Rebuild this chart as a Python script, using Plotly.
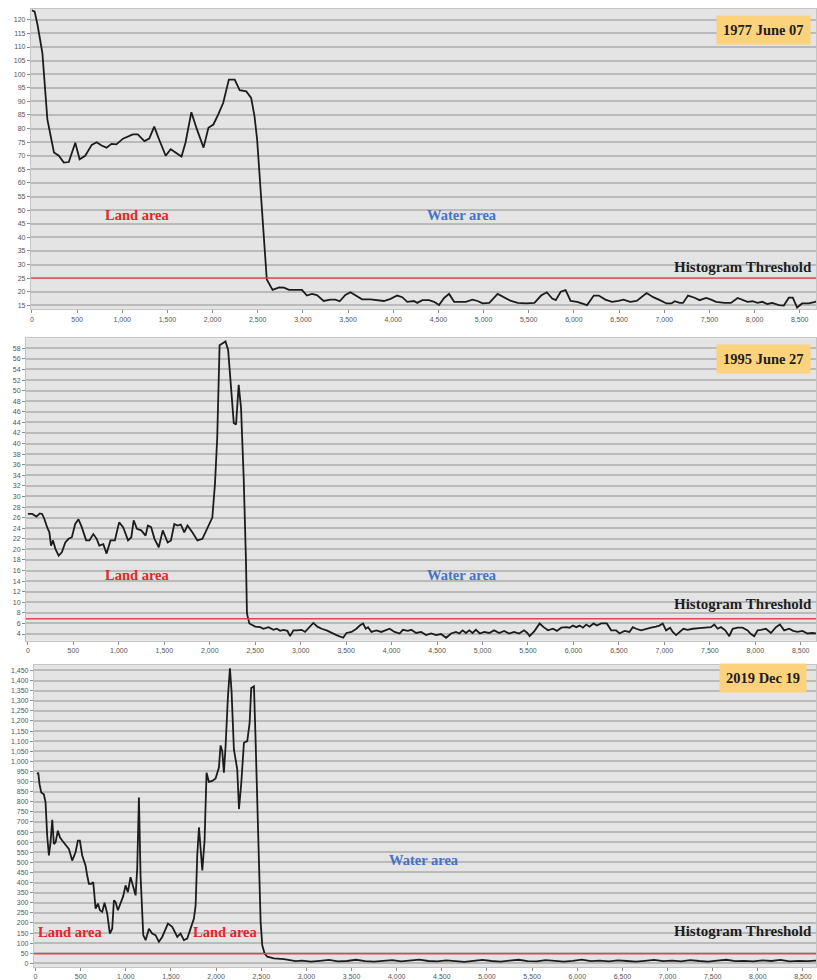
import plotly.graph_objects as go

W, H = 817, 980

# ---------------- data ----------------
# Panel 1: 1977 June 07
x1 = [0, 30, 62, 116, 171, 244, 298, 353, 408, 480, 528, 590, 662, 717, 771, 826, 881, 935,
      1008, 1063, 1117, 1172, 1245, 1299, 1354, 1408, 1481, 1536, 1590, 1656, 1700, 1765, 1827,
      1900, 1954, 2009, 2063, 2118, 2180, 2245, 2300, 2373, 2427, 2464, 2493, 2536, 2573, 2600,
      2664, 2737, 2791, 2846, 2933, 2989, 3044, 3100, 3155, 3230, 3304, 3359, 3407, 3470, 3526,
      3581, 3655, 3748, 3822, 3896, 3970, 4044, 4100, 4155, 4229, 4266, 4322, 4396, 4452, 4507,
      4563, 4618, 4674, 4748, 4803, 4877, 4933, 4989, 5063, 5156, 5230, 5304, 5378, 5470, 5563,
      5637, 5700, 5760, 5799, 5854, 5908, 5963, 6037, 6092, 6146, 6220, 6275, 6348, 6421, 6494,
      6549, 6622, 6695, 6805, 6878, 6952, 7025, 7080, 7116, 7171, 7208, 7263, 7336, 7391, 7464,
      7519, 7574, 7665, 7739, 7812, 7867, 7922, 7977, 8031, 8086, 8141, 8196, 8269, 8324, 8379,
      8423, 8471, 8526, 8599, 8672, 8708]
y1 = [123.5, 123, 118.2, 107.8, 83.4, 71.2, 70, 67.5, 67.7, 74.8, 68.7, 70, 74, 75, 73.8, 73, 74.4, 74.2,
      76.3, 77, 77.9, 77.9, 75.4, 76.3, 80.7, 76, 70, 72.4, 71.2, 69.7, 74.8, 86, 79.7,
      73, 80.3, 81.5, 85.2, 89.5, 98, 98, 94.1, 93.7, 91.3, 84.6, 76, 54, 34.5, 24.5,
      20.7, 21.6, 21.5, 20.7, 20.7, 20.7, 18.6, 19.2, 18.8, 16.6, 17.1, 17.1, 16.5, 18.8, 19.8,
      18.8, 17.2, 17.2, 16.9, 16.6, 17.4, 18.6, 18.0, 16.3, 16.6, 15.9, 16.9, 16.9, 16.3, 15.1,
      17.7, 19.2, 16.3, 16.3, 16.3, 17.1, 16.6, 15.7, 15.9, 19.2, 18.0, 16.6, 15.9, 15.7, 15.9,
      18.6, 19.8, 17.5, 16.9, 20.0, 20.6, 16.6, 16.3, 15.7, 15.1, 18.6, 18.6, 17.1, 16.3, 16.6,
      17.1, 16.3, 16.6, 19.5, 18.0, 16.9, 15.7, 15.7, 16.5, 15.9, 15.9, 18.6, 17.8, 16.9, 17.7,
      17.1, 16.3, 15.9, 15.9, 17.7, 17.1, 16.3, 16.5, 15.9, 16.3, 15.5, 15.9, 15.1, 14.9, 17.8,
      17.8, 14.2, 15.7, 15.7, 16.3, 16.9]
threshold1 = 25

# Panel 2: 1995 June 27
x2 = [0, 47, 94, 131, 156, 182, 211, 236, 254, 276, 302, 338, 374, 411, 447, 483, 520, 556, 592,
      640, 676, 719, 756, 785, 829, 865, 908, 956, 1003, 1047, 1101, 1137, 1163, 1199, 1246, 1294,
      1319, 1355, 1392, 1439, 1483, 1537, 1573, 1610, 1646, 1682, 1719, 1755, 1810, 1864, 1919,
      1973, 2028, 2057, 2082, 2108, 2173, 2202, 2238, 2264, 2289, 2318, 2344, 2373, 2398, 2409,
      2435, 2500, 2555, 2591, 2646, 2701, 2737, 2774, 2810, 2854, 2883, 2920, 2956, 3011, 3048,
      3084, 3139, 3183, 3230, 3285, 3340, 3394, 3467, 3504, 3559, 3613, 3650, 3686, 3715, 3741,
      3778, 3832, 3887, 3942, 3978, 4033, 4088, 4124, 4179, 4216, 4270, 4325, 4380, 4435, 4489,
      4544, 4599, 4654, 4708, 4745, 4781, 4818, 4854, 4891, 4927, 4971, 5019, 5073, 5128, 5183,
      5238, 5292, 5347, 5402, 5457, 5493, 5518, 5573, 5628, 5672, 5720, 5775, 5818, 5866, 5921,
      5958, 5994, 6031, 6067, 6104, 6141, 6177, 6221, 6258, 6305, 6367, 6415, 6470, 6506, 6561,
      6616, 6653, 6689, 6744, 6799, 6854, 6909, 6946, 6982, 7019, 7063, 7092, 7129, 7165, 7209,
      7257, 7312, 7385, 7458, 7513, 7549, 7586, 7623, 7670, 7714, 7751, 7806, 7861, 7916, 7952,
      7989, 8026, 8062, 8117, 8172, 8227, 8271, 8318, 8373, 8417, 8465, 8520, 8574, 8629, 8691]
y2 = [26.7, 26.7, 26.2, 26.8, 26.7, 25.7, 24.2, 23.2, 20.7, 21.7, 20.1, 18.8, 19.5, 21.3, 22.0, 22.3, 24.8, 25.7, 24.2,
      21.7, 21.7, 22.9, 22.0, 20.7, 21.0, 19.2, 21.7, 21.7, 25.1, 24.2, 21.7, 22.3, 25.5, 23.9, 23.6, 22.6,
      24.5, 24.2, 22.0, 20.4, 23.6, 21.3, 21.7, 24.8, 24.5, 24.7, 23.2, 24.5, 23.2, 21.7, 22.0,
      23.9, 26.0, 32.3, 41.1, 58.6, 59.3, 57.7, 49.2, 43.9, 43.6, 51.1, 46.7, 33.6, 17.9, 7.9,
      6.0, 5.4, 5.3, 5.0, 5.3, 4.8, 5.0, 4.6, 4.8, 4.6, 3.6, 4.7, 4.7, 4.8, 4.4,
      5.0, 6.1, 5.4, 5.0, 4.7, 4.2, 3.8, 3.3, 4.2, 4.4, 5.0, 5.6, 6.0, 5.0, 5.3,
      4.4, 4.7, 4.4, 4.7, 5.0, 4.4, 4.1, 4.8, 4.6, 4.8, 4.2, 4.4, 3.8, 4.1, 3.8,
      4.0, 3.3, 4.1, 4.4, 4.1, 4.7, 4.2, 4.7, 4.2, 4.8, 4.1, 4.4, 4.2, 4.7, 4.2,
      4.6, 4.1, 4.4, 4.1, 4.7, 4.2, 3.6, 4.6, 6.0, 5.3, 4.7, 5.0, 4.6, 5.2, 5.3,
      5.2, 5.6, 5.3, 5.6, 5.2, 5.8, 5.4, 6.0, 5.6, 6.0, 6.0, 4.7, 4.7, 4.1, 4.6,
      4.4, 5.3, 5.0, 4.7, 5.0, 5.2, 5.4, 5.6, 6.0, 4.7, 5.2, 4.4, 3.8, 4.4, 5.0,
      4.8, 5.0, 5.1, 5.2, 5.3, 5.8, 5.0, 5.3, 4.7, 3.6, 5.0, 5.2, 5.2, 4.7, 4.0,
      3.6, 4.7, 4.8, 5.0, 4.2, 5.3, 5.8, 4.7, 5.0, 4.6, 4.4, 4.6, 4.1, 4.2, 4.1]
threshold2 = 6.9

# Panel 3: 2019 Dec 19
x3 = [18, 30, 44, 63, 92, 111, 129, 148, 166, 185, 203, 222, 247, 270, 295, 332, 369, 406, 443,
      469, 491, 517, 554, 572, 591, 617, 639, 665, 691, 713, 739, 764, 794, 823, 849, 868, 886,
      912, 942, 971, 997, 1023, 1052, 1082, 1108, 1126, 1145, 1163, 1193, 1219, 1256, 1292, 1329,
      1366, 1403, 1466, 1514, 1570, 1606, 1643, 1680, 1717, 1754, 1773, 1791, 1810, 1828, 1847,
      1872, 1894, 1920, 1957, 1994, 2031, 2049, 2068, 2086, 2105, 2131, 2153, 2171, 2197, 2234,
      2253, 2279, 2308, 2345, 2371, 2389, 2419, 2437, 2456, 2474, 2493, 2511, 2537, 2567, 2640,
      2751, 2825, 2880, 2950, 3050, 3150, 3250, 3350, 3450, 3550, 3650, 3750, 3850, 3950, 4050,
      4150, 4250, 4350, 4450, 4550, 4650, 4750, 4850, 4950, 5050, 5150, 5250, 5350, 5450, 5550,
      5650, 5750, 5850, 5950, 6050, 6150, 6250, 6350, 6450, 6550, 6650, 6750, 6850, 6950, 7050,
      7150, 7250, 7350, 7450, 7550, 7650, 7750, 7850, 7950, 8050, 8150, 8250, 8350, 8450, 8550,
      8650]
y3 = [936, 944, 887, 846, 837, 796, 632, 534, 599, 711, 591, 599, 657, 624, 608, 586, 567, 509, 550,
      608, 608, 534, 484, 435, 394, 394, 402, 271, 296, 263, 255, 300, 246, 148, 172, 312, 304,
      263, 296, 333, 386, 353, 427, 378, 337, 468, 821, 435, 140, 115, 172, 148, 140,
      107, 131, 197, 181, 131, 148, 115, 123, 172, 222, 287, 534, 673, 567, 460,
      608, 944, 898, 903, 915, 969, 1079, 1051, 944, 1076, 1322, 1461, 1346, 1059, 961,
      764, 895, 1092, 1100, 1190, 1363, 1371, 1108, 780, 501, 205, 90, 49, 33, 25,
      21, 16, 11, 14, 9, 13, 17, 10, 12, 18, 11, 9, 14, 16, 10,
      13, 19, 12, 10, 15, 11, 8, 13, 17, 12, 9, 14, 18, 11, 10,
      16, 12, 9, 13, 19, 11, 14, 10, 15, 12, 9, 13, 17, 11, 14,
      10, 16, 12, 9, 14, 18, 11, 13, 10, 15, 12, 17, 10, 13, 11,
      14]
threshold3 = 48

x_ticks = [0, 500, 1000, 1500, 2000, 2500, 3000, 3500, 4000, 4500, 5000, 5500, 6000, 6500, 7000,
           7500, 8000, 8500]
x_tick_labels = ["0", "500", "1,000", "1,500", "2,000", "2,500", "3,000", "3,500", "4,000", "4,500",
                 "5,000", "5,500", "6,000", "6,500", "7,000", "7,500", "8,000", "8,500"]
y1_ticks = list(range(15, 121, 5))
y2_ticks = list(range(4, 59, 2))
y3_ticks = list(range(0, 1451, 50))
y3_tick_labels = [f"{v:,}" for v in y3_ticks]

dates = ["1977 June 07", "1995 June 27", "2019 Dec 19"]

# ---------------- figure ----------------
fig = go.Figure()
line_style = dict(color="#1c1c1c", width=1.8)
fig.add_trace(go.Scatter(x=x1, y=y1, mode="lines", line=line_style, xaxis="x", yaxis="y", showlegend=False))
fig.add_trace(go.Scatter(x=x2, y=y2, mode="lines", line=line_style, xaxis="x2", yaxis="y2", showlegend=False))
fig.add_trace(go.Scatter(x=x3, y=y3, mode="lines", line=line_style, xaxis="x3", yaxis="y3", showlegend=False))

def px_x(p):
    return p / W

def px_y(p):
    return 1 - p / H

tickfont = dict(family="Liberation Sans, Arial, sans-serif", size=7, color="#555555")
grid = dict(showgrid=True, gridcolor="#bababa", gridwidth=1.6)

def xaxis(domain_left, rng, anchor):
    return dict(domain=[px_x(domain_left), 1], range=rng, anchor=anchor, tickmode="array",
                tickvals=x_ticks, ticktext=x_tick_labels, tickfont=tickfont, ticks="outside",
                ticklen=3, tickcolor="#8a8a8a", showgrid=False, zeroline=False, showline=True,
                linecolor="#c4c4c4", linewidth=1, mirror=True)

def yaxis(top, bottom, rng, tickvals, ticktext, anchor):
    return dict(domain=[px_y(bottom), px_y(top)], range=rng, anchor=anchor, tickmode="array",
                tickvals=tickvals, ticktext=ticktext, tickfont=tickfont, ticks="outside",
                ticklen=3, tickcolor="#8a8a8a", zeroline=False, showline=True,
                linecolor="#c4c4c4", linewidth=1, mirror=True, **grid)

fig.update_layout(
    width=W, height=H,
    margin=dict(l=0, r=0, t=0, b=0),
    paper_bgcolor="white",
    plot_bgcolor="#e4e4e4",
    xaxis=xaxis(30, [-11, 8680], "y"),
    yaxis=yaxis(9, 311, [13.5, 124], y1_ticks, [str(v) for v in y1_ticks], "x"),
    xaxis2=xaxis(25, [-22, 8668], "y2"),
    yaxis2=yaxis(340, 644, [2.74, 59.9], y2_ticks, [str(v) for v in y2_ticks], "x2"),
    xaxis3=xaxis(33, [-18, 8644], "y3"),
    yaxis3=yaxis(668, 972, [-18, 1479], y3_ticks, y3_tick_labels, "x3"),
)

for i, thr in enumerate([threshold1, threshold2, threshold3]):
    suffix = "" if i == 0 else str(i + 1)
    fig.add_shape(type="line", xref=f"x{suffix} domain", yref=f"y{suffix}", x0=0, x1=1, y0=thr, y1=thr,
                  line=dict(color="#e0464b", width=1.4))

serif = "Liberation Serif, Times New Roman, serif"

def ann(text, cx, cy, color, xanchor="center", bg=None, size=14.5):
    d = dict(text=f"<b>{text}</b>", x=px_x(cx), y=px_y(cy), xref="paper", yref="paper",
             xanchor=xanchor, yanchor="middle", showarrow=False,
             font=dict(family=serif, size=size, color=color))
    if bg:
        d.update(bgcolor=bg, borderpad=6)
    fig.add_annotation(**d)

red = "#e3262b"
blue = "#4472c4"
dark = "#1e1e1e"
box = "#fcd27d"

# panel 1
ann(dates[0], 764, 30.5, dark, bg=box)
ann("Land area", 137, 216, red)
ann("Water area", 462, 216, blue)
ann("Histogram Threshold", 815, 268, dark, xanchor="right", size=15)
# panel 2
ann(dates[1], 764, 361, dark, bg=box)
ann("Land area", 137, 578, red)
ann("Water area", 462, 578, blue)
ann("Histogram Threshold", 815, 607, dark, xanchor="right", size=15)
# panel 3
ann(dates[2], 764, 681, dark, bg=box)
ann("Water area", 424, 864, blue)
ann("Land area", 70, 937, red)
ann("Land area", 225, 937, red)
ann("Histogram Threshold", 815, 936, dark, xanchor="right", size=15)

fig.write_html("out.html", config={"displayModeBar": False},
               post_script="document.body.style.margin='0';document.body.style.overflow='hidden';")
